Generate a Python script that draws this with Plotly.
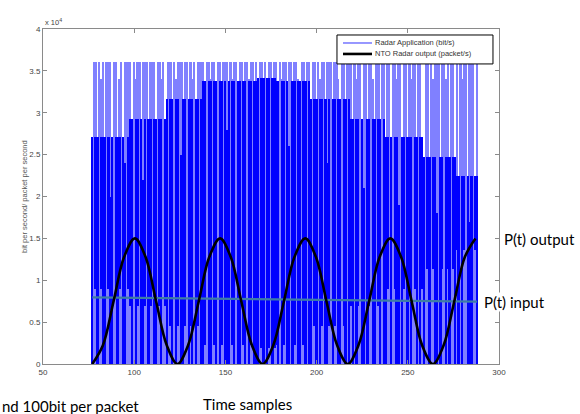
import plotly.graph_objects as go

# ---------------- data ----------------
# time samples of the radar application signal
samples = list(range(77, 289))

# dark-blue trace: bottom and top of each vertical segment (x 1000 bit/s)
dark_base_k = (
    [0, 0, 9, 0, 0, 9, 0, 0, 0, 9, 0, 0, 0, 9, 0, 9, 0, 0, 0, 0, 9]
    + [6.9, 0, 0, 0, 6.9, 0, 0, 0, 6.9, 0, 0, 6.9, 0, 0, 0, 0, 6.9, 0, 0, 6.9]
    + [0, 0, 4.5, 0, 0, 0, 4.5, 0, 0, 0, 4.5, 0, 0, 4.5, 0, 0, 0, 4.5, 0, 0]
    + [0, 2.3, 0, 0, 0, 0, 2.3, 0, 0, 0, 2.3, 0, 0, 0, 0, 0, 2.3, 0, 0, 0,
       0, 0, 2.3, 0, 0, 0, 2.3, 0, 0, 0]
    + [0, 0, 1.9, 0, 0, 0, 1.9, 0, 0, 1.9]
    + [2.3, 0, 0, 0, 2.3, 0, 0, 0, 0, 0, 2.3, 0, 0, 0, 0, 2.3, 0, 0, 0]
    + [0, 0, 4.5, 0, 0, 0, 4.5, 0, 0, 0, 4.5, 0, 0, 4.5, 0, 0, 0, 0, 4.5, 0, 0, 0]
    + [6.9, 0, 0, 0, 6.9, 0, 0, 0, 0, 0, 6.9, 0, 0, 0, 0, 6.9, 0, 0, 0]
    + [0, 9, 0, 0, 0, 9, 0, 0, 0, 0, 9, 0, 0, 9, 0, 0, 9, 0, 0, 0, 9]
    + [0, 0, 11.4, 0, 0, 11.4, 0, 0, 0, 0, 11.4, 0, 0, 11.4, 0, 0, 11.4, 0]
    + [13.6, 0, 0, 0, 13.6, 0, 0, 0, 0, 0, 13.6, 0]
)
dark_top_k = (
    [27.1, 0, 27.1, 27.1, 0, 27.1, 27.1, 27.1, 0, 27.1, 20, 27.1, 0, 27.1, 27.1,
     27.1, 0, 27.1, 24, 0, 27.1]
    + [29.2, 29.2, 0, 29.2, 29.2, 0, 29.2, 22, 29.2, 0, 29.2, 29.2, 0, 29.2,
       29.2, 0, 29.2, 29.2, 0, 29.2]
    + [31.6, 0, 31.6, 31.6, 0, 31.6, 31.6, 0, 25, 31.6, 31.6, 0, 31.6, 31.6,
       31.6, 0, 31.6, 31.6, 0, 31.6]
    + [33.8, 33.8, 0, 33.8, 33.8, 0, 33.8, 33.8, 0, 33.8, 33.8, 0, 33.8, 28,
       33.8, 0, 33.8, 33.8, 0, 33.8, 33.8, 0, 33.8, 33.8, 0, 33.8, 33.8, 0,
       33.8, 33.8]
    + [34.2, 0, 34.2, 34.2, 0, 34.2, 34.2, 0, 34.2, 34.2]
    + [33.8, 33.8, 0, 33.8, 33.8, 0, 33.8, 26, 0, 33.8, 33.8, 0, 33.8, 33.8, 0,
       33.8, 33.8, 0, 33.8]
    + [31.6, 0, 31.6, 31.6, 0, 31.6, 31.6, 0, 31.6, 24, 31.6, 0, 31.6, 31.6, 0,
       31.6, 31.6, 0, 31.6, 31.6, 0, 31.6]
    + [29.2, 29.2, 0, 29.2, 29.2, 0, 29.2, 21, 0, 29.2, 29.2, 0, 29.2, 29.2, 0,
       29.2, 29.2, 0, 29.2]
    + [27.1, 27.1, 0, 27.1, 0, 27.1, 27.1, 19, 0, 27.1, 27.1, 0, 27.1, 27.1,
       27.1, 0, 27.1, 27.1, 0, 27.1, 27.1]
    + [24.7, 0, 24.7, 24.7, 0, 24.7, 24.7, 18, 0, 24.7, 24.7, 0, 24.7, 24.7,
       24.7, 0, 24.7, 24.7]
    + [22.5, 22.5, 0, 22.5, 22.5, 0, 22.5, 17, 22.5, 0, 22.5, 22.5]
)
# light-blue trace "Radar Application (bit/s)": top of each segment (x 1000 bit/s)
light_top_k = (
    [9, 36.1, 36.1, 9, 36.1, 34, 36.1, 9, 36.1, 36.1, 36.1, 9, 36.1, 36.1, 9,
     34, 36.1, 9, 36.1, 36.1, 36.1]
    + [36.1, 6.9, 36.1, 34, 36.1, 36.1, 6.9, 36.1, 36.1, 36.1, 6.9, 36.1, 36.1,
       36.1, 6.9, 36.1, 36.1, 34, 36.1, 6.9]
    + [4.5, 36.1, 36.1, 4.5, 36.1, 34, 36.1, 36.1, 36.1, 4.5, 36.1, 36.1, 4.5,
       36.1, 34, 36.1, 4.5, 36.1, 36.1, 36.1]
    + [36.1, 2.3, 36.1, 36.1, 34, 36.1, 36.1, 2.3, 36.1, 36.1, 2.3, 36.1, 36.1,
       36.1, 2.3, 36.1, 34, 36.1, 36.1, 2.3, 36.1, 36.1, 2.3, 36.1, 36.1, 34,
       36.1, 36.1, 2.3, 36.1]
    + [1.9, 36.1, 36.1, 34, 36.1, 1.9, 36.1, 36.1, 1.9, 36.1]
    + [36.1, 2.3, 36.1, 34, 36.1, 36.1, 2.3, 36.1, 36.1, 2.3, 36.1, 36.1, 34,
       2.3, 36.1, 36.1, 2.3, 36.1, 36.1]
    + [4.5, 36.1, 36.1, 4.5, 36.1, 34, 36.1, 36.1, 4.5, 36.1, 36.1, 36.1, 4.5,
       36.1, 36.1, 34, 4.5, 36.1, 36.1, 4.5, 36.1, 36.1]
    + [36.1, 6.9, 36.1, 34, 36.1, 36.1, 6.9, 36.1, 36.1, 6.9, 36.1, 36.1, 34,
       6.9, 36.1, 36.1, 6.9, 36.1, 36.1]
    + [9, 36.1, 36.1, 9, 36.1, 36.1, 34, 36.1, 36.1, 9, 36.1, 36.1, 9, 36.1, 34,
       36.1, 36.1, 9, 36.1, 36.1, 9]
    + [11.4, 36.1, 36.1, 11.4, 36.1, 34, 36.1, 36.1, 36.1, 11.4, 36.1, 36.1, 34,
       36.1, 11.4, 36.1, 36.1, 11.4]
    + [36.1, 13.6, 36.1, 34, 36.1, 36.1, 13.6, 36.1, 36.1, 36.1, 13.6, 36.1]
)
assert len(samples) == len(dark_base_k) == len(dark_top_k) == len(light_top_k)

# NTO Radar output (packet/s) - read at peaks, troughs and in between
out_x = [77.0, 82.8, 88.7, 94.5, 100.4, 106.2, 112.0, 117.9, 123.7, 129.5,
         135.4, 141.2, 147.1, 152.9, 158.7, 164.6, 170.4, 176.2, 182.1, 187.9,
         193.8, 199.6, 205.4, 211.3, 217.1, 222.9, 228.8, 234.6, 240.4, 246.3,
         252.1, 257.9, 263.8, 269.6, 275.5, 281.3, 287.1]
out_y = [0, 2200, 7500, 12800, 15000, 12800, 7500, 2200, 0, 2200,
         7500, 12800, 15000, 12800, 7500, 2200, 0, 2200, 7500, 12800,
         15000, 12800, 7500, 2200, 0, 2200, 7500, 12800, 15000, 12800,
         7500, 2200, 0, 2200, 7500, 12800, 15000]

# P(t) input line
in_x = [77, 288]
in_y = [7950, 7450]

x_ticks = [50, 100, 150, 200, 250, 300]
y_ticks = [0, 5000, 10000, 15000, 20000, 25000, 30000, 35000, 40000]
y_tick_labels = ["0", "0.5", "1", "1.5", "2", "2.5", "3", "3.5", "4"]

legend_names = ["Radar Application (bit/s)", "NTO Radar output (packet/s)"]

# ---------------- figure ----------------
LIGHT = "rgb(128,128,255)"
DARK = "rgb(0,0,255)"
LEG_LIGHT = "rgb(150,150,255)"

light_top = [v * 1000 for v in light_top_k]
dark_base = [v * 1000 for v in dark_base_k]
dark_len = [(t - b) * 1000 if t > 0 else 0 for t, b in zip(dark_top_k, dark_base_k)]

fig = go.Figure()
fig.add_trace(go.Bar(x=samples, y=light_top, width=1, marker=dict(color=LIGHT, line=dict(width=0)),
                     name=legend_names[0], showlegend=False, hoverinfo="skip"))
fig.add_trace(go.Bar(x=samples, y=dark_len, base=dark_base, width=1,
                     marker=dict(color=DARK, line=dict(width=0)),
                     showlegend=False, hoverinfo="skip"))
fig.add_trace(go.Scatter(x=in_x, y=in_y, mode="lines", line=dict(color="rgb(62,125,165)", width=2.2),
                         showlegend=False))
fig.add_trace(go.Scatter(x=out_x, y=out_y, mode="lines", line=dict(color="black", width=2.6, shape="spline"),
                         name=legend_names[1], showlegend=False))

axis_common = dict(ticks="inside", ticklen=4, tickcolor="#8a8a8a", showline=True, linecolor="#8a8a8a",
                   linewidth=1, mirror="ticks", showgrid=False, zeroline=False,
                   tickfont=dict(family="Liberation Sans", size=8, color="#444"))

# legend box drawn in paper coordinates (MATLAB style compact legend)
leg_font = dict(family="Liberation Sans", size=7.5, color="#333")
shapes = [
    dict(type="rect", xref="paper", yref="paper", x0=0.6447, x1=0.9868, y0=0.8957, y1=0.9821,
         line=dict(color="black", width=1), fillcolor="white", layer="above"),
    dict(type="line", xref="paper", yref="paper", x0=0.6579, x1=0.7215, y0=0.9583, y1=0.9583,
         line=dict(color=LEG_LIGHT, width=2), layer="above"),
    dict(type="line", xref="paper", yref="paper", x0=0.6579, x1=0.7215, y0=0.9255, y1=0.9255,
         line=dict(color="black", width=2.6), layer="above"),
]

big_font = dict(family="Lato", size=15, color="black")
annotations = [
    dict(text=legend_names[0], xref="paper", yref="paper", x=0.7237, y=0.9583, xanchor="left",
         yanchor="middle", showarrow=False, font=leg_font),
    dict(text=legend_names[1], xref="paper", yref="paper", x=0.7237, y=0.9255, xanchor="left",
         yanchor="middle", showarrow=False, font=leg_font),
    dict(text="x 10<sup>4</sup>", xref="paper", yref="paper", x=0, y=1, xanchor="left",
         yanchor="bottom", showarrow=False, font=dict(family="Liberation Sans", size=7.5, color="#444")),
    dict(text="bit per second/ packet per second", xref="paper", yref="paper", x=-0.055, y=0.5,
         textangle=-90, showarrow=False, font=dict(family="Liberation Sans", size=7.5, color="#555")),
    dict(text="P(t) output", xref="paper", yref="paper", x=1.006, y=0.374, xanchor="left",
         yanchor="middle", showarrow=False, font=big_font),
    dict(text="P(t) input", xref="paper", yref="paper", x=0.966, y=0.186, xanchor="left",
         yanchor="middle", showarrow=False, bgcolor="white", borderpad=0, font=big_font),
    dict(text="Time samples", xref="paper", yref="paper", x=0.347, y=-0.1207, xanchor="left",
         yanchor="middle", showarrow=False, font=big_font),
    dict(text="nd 100bit per packet", xref="paper", yref="paper", x=-0.0943, y=-0.1267, xanchor="left",
         yanchor="middle", showarrow=False, font=big_font),
]

fig.update_layout(
    width=580, height=414,
    margin=dict(l=43, r=81, t=29, b=50),
    paper_bgcolor="white", plot_bgcolor="white",
    barmode="overlay", bargap=0, showlegend=False,
    xaxis=dict(range=[50, 300], tickvals=x_ticks, **axis_common),
    yaxis=dict(range=[0, 40000], tickvals=y_ticks, ticktext=y_tick_labels, **axis_common),
    shapes=shapes,
    annotations=annotations,
)

fig.write_html("out.html", config={"displayModeBar": False},
               post_script="document.body.style.margin='0px';")
